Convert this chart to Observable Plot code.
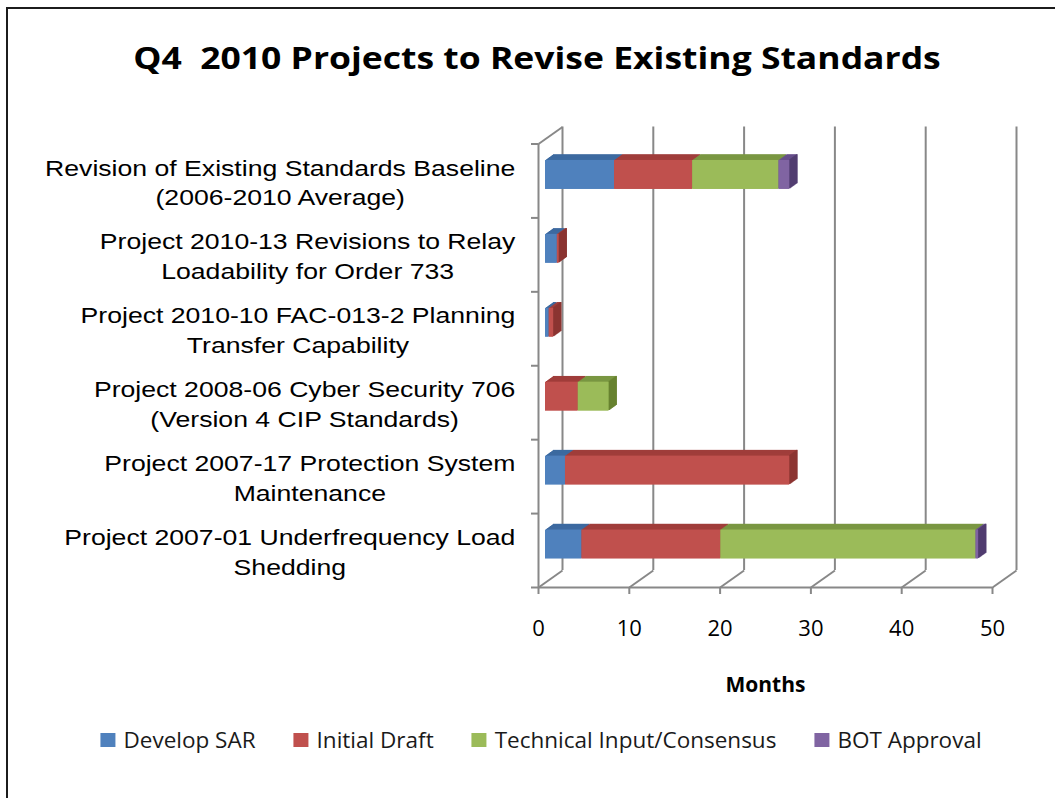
<!DOCTYPE html>
<html>
<head>
<meta charset="utf-8">
<script src="https://cdn.jsdelivr.net/npm/d3@7"></script>
<script src="https://cdn.jsdelivr.net/npm/@observablehq/plot@0.6"></script>
<style>
  html, body { margin: 0; padding: 0; background: #fff; width: 1055px; height: 798px; overflow: hidden; }
  #root { position: relative; width: 1055px; height: 798px; overflow: hidden; }
  #frame { position: absolute; left: 6px; top: 7px; width: 1200px; height: 900px;
           border-left: 2px solid #1c1c1c; border-top: 2px solid #1c1c1c; }
  #title { position: absolute; left: 20px; width: 1034px; top: 41px; text-align: center;
           font-family: "Open Sans", sans-serif; font-weight: 700; font-size: 31px; line-height: 32px;
           white-space: pre; color: #000; transform: scaleX(1.145); transform-origin: 517px 50%; }
  #chart { position: absolute; left: 0; top: 100px; }
  #legend { position: absolute; left: 541px; top: 726px; transform: translateX(-50%);
            display: flex; gap: 38px; white-space: nowrap;
            font-family: "Open Sans", sans-serif; font-size: 22.5px; line-height: 28px; color: #1a1a1a; }
  #legend .item { display: flex; align-items: center; gap: 8px; }
  #legend .sw { width: 15px; height: 14px; display: inline-block; }
</style>
</head>
<body>
<div id="root">
  <div id="frame"></div>
  <div id="title"></div>
  <div id="chart"></div>
  <div id="legend"></div>
</div>
<script>
// ---------------- data ----------------
const titleText = "Q4  2010 Projects to Revise Existing Standards";
const xAxisLabel = "Months";
const categories = [
  "Revision of Existing Standards Baseline\n(2006-2010 Average)",
  "Project 2010-13 Revisions to Relay\nLoadability for Order 733",
  "Project 2010-10 FAC-013-2 Planning\nTransfer Capability",
  "Project 2008-06 Cyber Security 706\n(Version 4 CIP Standards)",
  "Project 2007-17 Protection System\nMaintenance",
  "Project 2007-01 Underfrequency Load\nShedding"
];
const seriesNames = ["Develop SAR", "Initial Draft", "Technical Input/Consensus", "BOT Approval"];
const developSAR     = [7.6, 1.3, 0.4, 0,   2.2,  4.0];
const initialDraft   = [8.6, 0.2, 0.5, 3.6, 24.7, 15.3];
const technicalInput = [9.5, 0,   0,   3.4, 0,    28.1];
const botApproval    = [1.2, 0,   0,   0,   0,    0.3];
const xTicks = [0, 10, 20, 30, 40, 50];

// ---------------- styles ----------------
const frontColors = ["#4f81bd", "#c0504d", "#9bbb59", "#8064a2"];
const topColors   = ["#3d6aa0", "#a03e3b", "#7a9742", "#664e8b"];
const sideColors  = ["#2f5585", "#8a3431", "#66802f", "#4f3b6e"];
const gridColor = "#888888";

// ---------------- layout ----------------
const W = 1055, H = 610, ML = 538, MR = 63, MT = 43.5, MB = 123;
const kx = (W - ML - MR) / 50;      // px per month
const ky = (H - MT - MB) / 6;       // px per row
const WALL_DX = 24, WALL_DY = -17;  // depth of the 3D walls
const BOX = 7, BOY = -6;            // bar front face offset
const STEPS = 8, STEP_DY = -0.72;   // bar depth
const halfH = 14.5 / ky;
const LABEL_SIZE = 22, LABEL_STRETCH = 1.21, LABEL_GAP = 23;

const seriesValues = [developSAR, initialDraft, technicalInput, botApproval];
const segments = [];
categories.forEach((cat, row) => {
  let acc = 0;
  seriesValues.forEach((vals, s) => {
    const v = vals[row];
    if (v > 0) { segments.push({row, s, x1: acc, x2: acc + v}); acc += v; }
  });
});
const lastSegs = categories.map((_, row) => {
  const segs = segments.filter(d => d.row === row);
  return segs[segs.length - 1];
});

const rowY1 = d => d.row - halfH, rowY2 = d => d.row + halfH;
const marks = [];

// back wall gridlines
marks.push(Plot.ruleX(xTicks, {x: d => d, y1: -0.5, y2: 5.5, dx: WALL_DX, dy: WALL_DY, stroke: gridColor, strokeWidth: 2}));
// floor diagonals + left wall top diagonal
marks.push(Plot.link(xTicks, {x1: d => d, y1: 5.5, x2: d => d + WALL_DX / kx, y2: 5.5 + WALL_DY / ky, stroke: gridColor, strokeWidth: 2}));
marks.push(Plot.link([0], {x1: 0, y1: -0.5, x2: WALL_DX / kx, y2: -0.5 + WALL_DY / ky, stroke: gridColor, strokeWidth: 2}));
// front left axis and floor edge
marks.push(Plot.ruleX([0], {x: d => d, y1: -0.5, y2: 5.5, stroke: gridColor, strokeWidth: 2}));
marks.push(Plot.ruleY([5.5], {y: d => d, x1: 0, x2: 50, stroke: gridColor, strokeWidth: 2}));
// tick marks
marks.push(Plot.ruleY(d3.range(-0.5, 6, 1), {y: d => d, x1: -7 / kx, x2: 0, stroke: gridColor, strokeWidth: 2}));
marks.push(Plot.ruleX(xTicks, {x: d => d, y1: 5.5, y2: 5.5 + 7 / ky, stroke: gridColor, strokeWidth: 2}));

// 3D extrusion of bars (top faces), series by series from left to right
for (let s = 0; s < 4; s++) {
  const data = segments.filter(d => d.s === s);
  for (let k = STEPS; k >= 1; k--) {
    marks.push(Plot.rect(data, {x1: "x1", x2: "x2", y1: rowY1, y2: rowY2, fill: topColors[s],
      dx: BOX + k, dy: BOY + STEP_DY * k}));
  }
}
// right side faces of each bar
for (let s = 0; s < 4; s++) {
  const data = lastSegs.filter(d => d.s === s);
  for (let k = 1; k <= STEPS; k++) {
    marks.push(Plot.rect(data, {x1: "x2", x2: d => d.x2 + 1.3 / kx, y1: rowY1, y2: rowY2, fill: sideColors[s],
      dx: BOX + k - 1, dy: BOY + STEP_DY * k}));
  }
}
// front faces
for (let s = 0; s < 4; s++) {
  marks.push(Plot.rect(segments.filter(d => d.s === s), {x1: "x1", x2: "x2", y1: rowY1, y2: rowY2,
    fill: frontColors[s], dx: BOX, dy: BOY}));
}

// category labels (centered lines, block right-aligned)
const ctx = document.createElement("canvas").getContext("2d");
ctx.font = `${LABEL_SIZE}px "Liberation Sans"`;
const blockWidth = label => LABEL_STRETCH * Math.max(...label.split("\n").map(l => ctx.measureText(l).width));
categories.forEach((cat, row) => {
  marks.push(Plot.text([cat], {x: 0, y: row, text: d => d, textAnchor: "middle",
    dx: -(LABEL_GAP + blockWidth(cat) / 2), fontFamily: "Liberation Sans", fontSize: LABEL_SIZE,
    lineHeight: 1.36, fill: "#000"}));
});
// x tick labels
marks.push(Plot.text(xTicks, {x: d => d, y: 5.5, dy: 41, text: d => String(d), fontFamily: "Open Sans",
  fontSize: 22, fill: "#000"}));
// axis title
marks.push(Plot.text([xAxisLabel], {x: 25, y: 5.5, dy: 98, text: d => d, fontFamily: "Open Sans",
  fontWeight: "bold", fontSize: 21, fill: "#000"}));

const chart = Plot.plot({
  width: W, height: H,
  marginLeft: ML, marginRight: MR, marginTop: MT, marginBottom: MB,
  x: {domain: [0, 50], axis: null},
  y: {domain: [-0.5, 5.5], reverse: true, axis: null},
  style: {background: "transparent", overflow: "visible", fontFamily: "Open Sans"},
  marks
});
// horizontally stretch the category labels like the original (wide Arial look)
chart.querySelectorAll('g[font-family*="Liberation"] text').forEach(t => {
  const tr = t.getAttribute("transform") || "";
  t.setAttribute("transform", `${tr} scale(${LABEL_STRETCH},1)`);
});
document.getElementById("chart").appendChild(chart);
document.getElementById("title").textContent = titleText;

const legend = document.getElementById("legend");
seriesNames.forEach((name, i) => {
  const item = document.createElement("div");
  item.className = "item";
  const sw = document.createElement("span");
  sw.className = "sw";
  sw.style.background = frontColors[i];
  const label = document.createElement("span");
  label.textContent = name;
  item.appendChild(sw); item.appendChild(label);
  legend.appendChild(item);
});
</script>
</body>
</html>
